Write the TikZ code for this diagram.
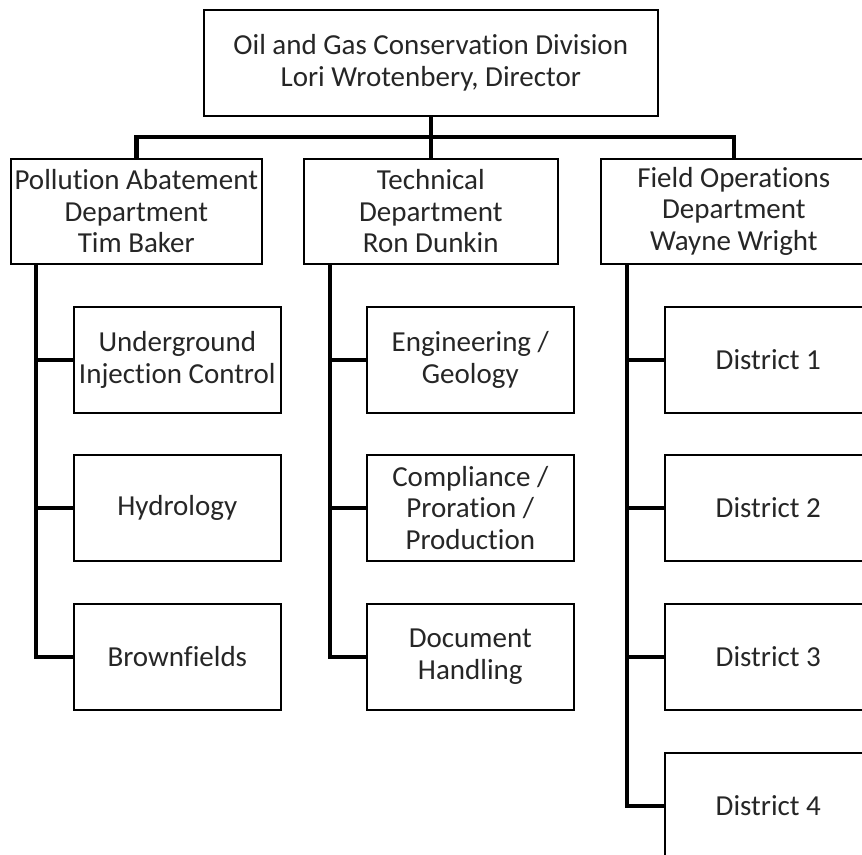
\documentclass[tikz,border=0pt]{standalone}
\usepackage{fontspec}
\setmainfont[Ligatures=NoCommon]{Carlito}
\usetikzlibrary{positioning}

\tikzset{
  box/.style={draw, rectangle, line width=1.6pt, align=center, inner sep=0pt,
    text=black!85, font=\fontsize{29}{31.5}\selectfont, anchor=north west},
  conn/.style={draw, line width=4.5pt}
}

\begin{document}
\begin{tikzpicture}[x=1pt, y=-1pt]

\useasboundingbox (0,0) rectangle (862,854);
\clip (0,0) rectangle (862,854);

% Caixa do topo
\node (div) [box, minimum width=454pt, minimum height=106pt] at (203,9)
  {Oil and Gas Conservation Division\\Lori Wrotenbery, Director};

% Departamentos
\node (pa) [box, minimum width=251pt, minimum height=105pt] at (10,158)
  {Pollution Abatement\\Department\\Tim Baker};
\node (td) [box, minimum width=254pt, minimum height=105pt] at (303,158)
  {Technical\\Department\\Ron Dunkin};
\node (fo) [box, minimum width=266pt, minimum height=105pt] at (600,158)
  {Field Operations\\Department\\Wayne Wright};

% Barra entre divisao e departamentos
\coordinate (bar) at (430,137);
\path[conn] (div.south) -- (td.north);
\path[conn] (pa.north) |- (bar) -| (fo.north);

% Pollution Abatement
\node (uic) [box, minimum width=207pt, minimum height=106pt] at (73,306)
  {Underground\\Injection Control};
\node (hyd) [box, minimum width=207pt, minimum height=106pt] at (73,454)
  {Hydrology};
\node (brown) [box, minimum width=207pt, minimum height=106pt] at (73,603)
  {Brownfields};

\coordinate (paspine) at (36,263);
\path[conn] (paspine) |- (brown.west);
\path[conn] (uic.west) -- (uic.west -| paspine);
\path[conn] (hyd.west) -- (hyd.west -| paspine);

% Technical
\node (eng) [box, minimum width=207pt, minimum height=106pt] at (366,306)
  {Engineering /\\Geology};
\node (comp) [box, minimum width=207pt, minimum height=106pt] at (366,454)
  {Compliance /\\Proration /\\Production};
\node (doc) [box, minimum width=207pt, minimum height=106pt] at (366,603)
  {Document\\Handling};

\coordinate (tdspine) at (330,263);
\path[conn] (tdspine) |- (doc.west);
\path[conn] (eng.west) -- (eng.west -| tdspine);
\path[conn] (comp.west) -- (comp.west -| tdspine);

% Field Operations
\node (d1) [box, minimum width=207pt, minimum height=106pt] at (664,306) {District 1};
\node (d2) [box, minimum width=207pt, minimum height=106pt] at (664,454) {District 2};
\node (d3) [box, minimum width=207pt, minimum height=106pt] at (664,603) {District 3};
\node (d4) [box, minimum width=207pt, minimum height=106pt] at (664,752) {District 4};

\coordinate (fospine) at (627,263);
\path[conn] (fospine) |- (d4.west);
\path[conn] (d1.west) -- (d1.west -| fospine);
\path[conn] (d2.west) -- (d2.west -| fospine);
\path[conn] (d3.west) -- (d3.west -| fospine);

\end{tikzpicture}
\end{document}
